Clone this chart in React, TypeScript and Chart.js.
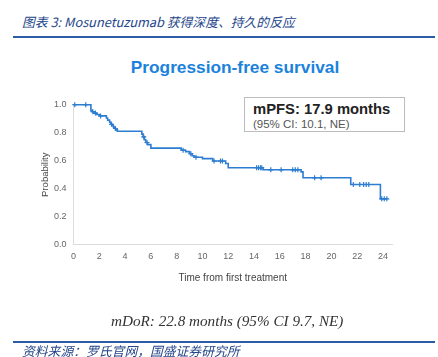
import React, { useEffect, useRef } from "react";
import { Chart, registerables } from "chart.js";

Chart.register(...registerables);

const headerTitle = "图表 3:  Mosunetuzumab 获得深度、持久的反应";
const chartTitle = "Progression-free survival";
const boxLine1 = "mPFS: 17.9 months";
const boxLine2 = "(95% CI: 10.1, NE)";
const footnote = "mDoR: 22.8 months (95% CI 9.7, NE)";
const source = "资料来源：罗氏官网，国盛证券研究所";

const xTicks = [0, 2, 4, 6, 8, 10, 12, 14, 16, 18, 20, 22, 24];
const yTicks = [0, 0.2, 0.4, 0.6, 0.8, 1.0];

// Kaplan-Meier event steps (time in months, survival probability)
const eventTimes = [0, 1.35, 1.45, 1.6, 1.8, 2.0, 2.55, 2.65, 2.8, 2.9, 3.0, 3.1, 3.2, 3.3, 3.4, 5.3, 5.4, 5.5, 5.6, 5.75, 6.0, 8.35, 8.7, 9.0, 9.2, 9.35, 10.0, 10.8, 11.8, 12.0, 14.7, 17.65, 17.8, 21.5, 23.8, 24.35];
const survival = [1.0, 0.96, 0.95, 0.94, 0.93, 0.92, 0.905, 0.89, 0.875, 0.86, 0.85, 0.84, 0.83, 0.82, 0.81, 0.79, 0.77, 0.75, 0.73, 0.715, 0.69, 0.675, 0.665, 0.65, 0.635, 0.625, 0.615, 0.598, 0.58, 0.55, 0.535, 0.52, 0.478, 0.43, 0.328, 0.328];

// Censored observations
const censorTimes = [0.1, 0.95, 1.5, 1.7, 2.1, 2.95, 3.25, 5.45, 5.7, 8.5, 9.1, 9.5, 10.9, 11.4, 11.55, 14.2, 14.35, 14.5, 14.6, 15.3, 16.1, 17.0, 17.2, 17.4, 18.7, 19.2, 21.7, 22.2, 22.5, 22.7, 22.9, 23.9, 24.1, 24.3];
const censorValues = [1.0, 1.0, 0.95, 0.94, 0.92, 0.86, 0.83, 0.77, 0.73, 0.675, 0.65, 0.625, 0.598, 0.598, 0.598, 0.55, 0.55, 0.55, 0.55, 0.535, 0.535, 0.535, 0.535, 0.535, 0.478, 0.478, 0.43, 0.43, 0.43, 0.43, 0.43, 0.328, 0.328, 0.328];

const lineColor = "#2d7dd2";

export default function App() {
  const ref = useRef<HTMLCanvasElement | null>(null);

  useEffect(() => {
    if (!ref.current) return;
    const chart = new Chart(ref.current, {
      type: "line",
      data: {
        datasets: [
          {
            data: eventTimes.map((t, i) => ({ x: t, y: survival[i] })),
            borderColor: lineColor,
            borderWidth: 1.6,
            stepped: true,
            pointRadius: 0,
            fill: false,
            clip: false as any,
          },
          {
            type: "scatter" as any,
            data: censorTimes.map((t, i) => ({ x: t, y: censorValues[i] })),
            borderColor: lineColor,
            backgroundColor: lineColor,
            pointStyle: "cross",
            pointRadius: 2.5,
            borderWidth: 1.2,
            showLine: false,
            clip: false as any,
          },
        ],
      },
      options: {
        animation: false,
        responsive: false,
        maintainAspectRatio: false,
        layout: { padding: { left: 40, right: 46, top: 104.7, bottom: 73 } },
        plugins: { legend: { display: false }, tooltip: { enabled: false }, title: { display: false } },
        scales: {
          x: {
            type: "linear",
            min: 0,
            max: 24.7,
            afterBuildTicks: (s: any) => {
              s.ticks = xTicks.map((v) => ({ value: v }));
            },
            afterFit: (s: any) => {
              s.height = 39.3;
            },
            grid: { color: "rgba(0,0,0,0)", drawTicks: false },
            border: { display: true, color: "#dcdcdc", width: 1 },
            ticks: {
              padding: 6,
              color: "#666",
              font: { family: "Arial, 'Liberation Sans', sans-serif", size: 9 },
              maxRotation: 0,
            },
            title: {
              display: true,
              text: "Time from first treatment",
              color: "#444",
              font: { family: "Arial, 'Liberation Sans', sans-serif", size: 10 },
              padding: { top: 0, bottom: 0 },
            },
          },
          y: {
            type: "linear",
            min: 0,
            max: 1.0,
            afterBuildTicks: (s: any) => {
              s.ticks = yTicks.map((v) => ({ value: v }));
            },
            afterFit: (s: any) => {
              s.width = 33.5;
            },
            grid: { color: "rgba(0,0,0,0)", drawTicks: false },
            border: { display: true, color: "#dcdcdc", width: 1 },
            ticks: {
              padding: 7,
              color: "#666",
              font: { family: "Arial, 'Liberation Sans', sans-serif", size: 9 },
              callback: (v: any) => Number(v).toFixed(1),
            },
            title: {
              display: true,
              text: "Probability",
              color: "#444",
              font: { family: "Arial, 'Liberation Sans', sans-serif", size: 9.5 },
              padding: { top: 0, bottom: 0 },
            },
          },
        },
      },
    });
    return () => chart.destroy();
  }, []);

  return (
    <div style={{ position: "fixed", left: 0, top: 0, width: 438, height: 357, background: "#fff", overflow: "hidden" }}>
      <div
        style={{
          position: "absolute",
          left: 22,
          top: 13,
          fontFamily: "'Noto Sans CJK SC', 'Liberation Sans', sans-serif",
          fontStyle: "italic",
          fontSize: 12.8,
          color: "#23458a",
          whiteSpace: "nowrap",
          lineHeight: "18px",
        }}
      >
        {headerTitle}
      </div>
      <div style={{ position: "absolute", left: 13, top: 36, width: 422, height: 2, background: "#2d5ca6" }} />
      <div
        style={{
          position: "absolute",
          left: 0,
          width: 470,
          top: 56,
          textAlign: "center",
          fontFamily: "Arial, 'Liberation Sans', sans-serif",
          fontWeight: "bold",
          fontSize: 17.3,
          color: "#1b82dc",
          lineHeight: "22px",
          whiteSpace: "nowrap",
        }}
      >
        {chartTitle}
      </div>
      <canvas ref={ref} width={438} height={357} style={{ position: "absolute", left: 0, top: 0, width: 438, height: 357 }} />
      <div
        style={{
          position: "absolute",
          left: 244,
          top: 97,
          width: 161,
          height: 35,
          border: "1px solid #bdbdbd",
          background: "#fff",
          boxSizing: "border-box",
          fontFamily: "Arial, 'Liberation Sans', sans-serif",
          paddingLeft: 8,
        }}
      >
        <div style={{ fontWeight: "bold", fontSize: 14.8, color: "#222", lineHeight: "17px", marginTop: 3, whiteSpace: "nowrap" }}>{boxLine1}</div>
        <div style={{ fontSize: 11.5, color: "#555", lineHeight: "13px", whiteSpace: "nowrap" }}>{boxLine2}</div>
      </div>
      <div
        style={{
          position: "absolute",
          left: 111,
          top: 311,
          fontFamily: "'Liberation Serif', 'DejaVu Serif', serif",
          fontStyle: "italic",
          fontSize: 15.2,
          color: "#333",
          whiteSpace: "nowrap",
          lineHeight: "20px",
        }}
      >
        {footnote}
      </div>
      <div style={{ position: "absolute", left: 13, top: 341, width: 422, height: 2, background: "#2d5ca6" }} />
      <div
        style={{
          position: "absolute",
          left: 22,
          top: 343,
          fontFamily: "'Noto Sans CJK SC', sans-serif",
          fontStyle: "italic",
          fontSize: 12.8,
          color: "#23458a",
          whiteSpace: "nowrap",
          lineHeight: "15px",
        }}
      >
        {source}
      </div>
    </div>
  );
}
